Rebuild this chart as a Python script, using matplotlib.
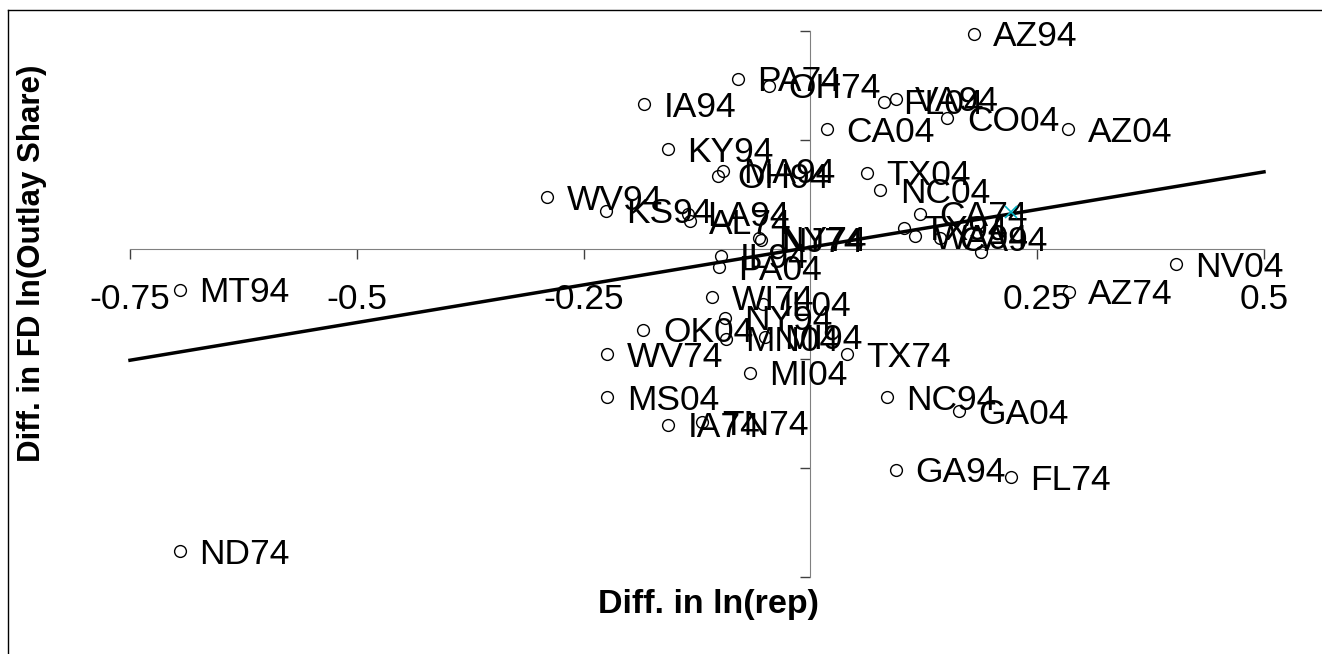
import matplotlib.pyplot as plt
from matplotlib.lines import Line2D
from matplotlib.ticker import FixedLocator, FixedFormatter

plt.rcParams['font.family'] = ['Liberation Sans', 'DejaVu Sans']

# state/year labels with differences ('' = point with no visible label)
states = ['AZ94', 'PA74', 'OH74', 'IA94', 'FL04', 'VA94', 'CO04', 'CA04', 'AZ04',
          'KY94', 'MA94', 'OH94', 'TX04', 'NC04', 'WV94', 'KS94', 'LA94', 'AL74',
          'CA74', 'TX94', 'WA94', 'CA94', '', 'NY74', 'NJ74', 'IL94', 'PA04',
          'WI74', 'IL04', 'NY94', 'OK04', 'MN04', 'WV74', 'MI94', 'MI04', 'TX74',
          'MS04', 'IA74', 'TN74', 'NC94', 'GA04', 'GA94', 'FL74', 'ND74', 'MT94',
          'NV04', 'AZ74']
diff_rep = [0.180, -0.080, -0.046, -0.183, 0.081, 0.094, 0.151, 0.018, 0.284,
            -0.157, -0.096, -0.102, 0.062, 0.077, -0.290, -0.225, -0.135, -0.133,
            0.121, 0.103, 0.115, 0.143, 0.188, -0.057, -0.054, -0.099, -0.101,
            -0.108, -0.052, -0.094, -0.184, -0.093, -0.224, -0.050, -0.067, 0.040,
            -0.224, -0.157, -0.119, 0.084, 0.164, 0.094, 0.221, -0.695, -0.695,
            0.403, 0.285]
diff_share = [0.494, 0.391, 0.375, 0.332, 0.338, 0.345, 0.300, 0.275, 0.275,
              0.229, 0.179, 0.169, 0.176, 0.135, 0.119, 0.089, 0.082, 0.064,
              0.082, 0.050, 0.030, 0.025, -0.005, 0.025, 0.022, -0.014, -0.041,
              -0.110, -0.124, -0.156, -0.185, -0.205, -0.240, -0.200, -0.282, -0.240,
              -0.339, -0.401, -0.396, -0.339, -0.371, -0.504, -0.522, -0.691, -0.092,
              -0.034, -0.098]

trend_slope = 0.345
trend_intercept = 0.005
extra_x = [0.221]
extra_y = [0.085]

x_ticks = [-0.75, -0.5, -0.25, 0, 0.25, 0.5]
x_tick_labels = ['-0.75', '-0.5', '-0.25', '', '0.25', '0.5']
y_ticks = [-0.75, -0.5, -0.25, 0, 0.25, 0.5]

fig = plt.figure(figsize=(13.22, 6.54), dpi=100)
ax = fig.add_axes([130 / 1322, 77 / 654, 1134 / 1322, 546 / 654])
ax.set_xlim(-0.75, 0.5)
ax.set_ylim(-0.75, 0.5)

ax.plot(diff_rep, diff_share, 'o', ms=8.5, mfc='none', mec='black', mew=1.0,
        clip_on=False, zorder=3)
for s, x, y in zip(states, diff_rep, diff_share):
    if s:
        ax.annotate(s, (x, y), xytext=(14, -2), textcoords='offset points',
                    ha='left', va='center', fontsize=25.5, annotation_clip=False)

xl = [-0.75, 0.5]
ax.plot(xl, [trend_intercept + trend_slope * v for v in xl], color='black', lw=2.5,
        clip_on=False, zorder=4)
ax.plot(extra_x, extra_y, 'x', color='#00b0c0', ms=8, mew=1.2, zorder=5)

for side in ['top', 'right']:
    ax.spines[side].set_visible(False)
ax.spines['left'].set_position(('data', 0))
ax.spines['bottom'].set_position(('data', 0))
ax.spines['left'].set_color('#808080')
ax.spines['bottom'].set_color('#808080')

ax.xaxis.set_major_locator(FixedLocator(x_ticks))
ax.xaxis.set_major_formatter(FixedFormatter(x_tick_labels))
ax.yaxis.set_major_locator(FixedLocator(y_ticks))
ax.set_yticklabels([])
ax.tick_params(axis='x', direction='out', length=7, width=1, color='#404040',
               labelsize=25.5, pad=17)
ax.tick_params(axis='y', direction='out', length=7, width=1, color='#404040')

fig.text(709 / 1322, 1 - 605 / 654, 'Diff. in ln(rep)', ha='center', va='center',
         fontsize=24.5, fontweight='bold')
fig.text(32 / 1322, 1 - 263 / 654, 'Diff. in FD ln(Outlay Share)', ha='center',
         va='center', rotation=90, fontsize=22.5, fontweight='bold')

# chart area border (top and left edges)
fig.add_artist(Line2D([8 / 1322, 1], [1 - 10 / 654] * 2, color='black', lw=1))
fig.add_artist(Line2D([8 / 1322] * 2, [0, 1 - 10 / 654], color='black', lw=1))

fig.savefig('out.png', dpi=100)
